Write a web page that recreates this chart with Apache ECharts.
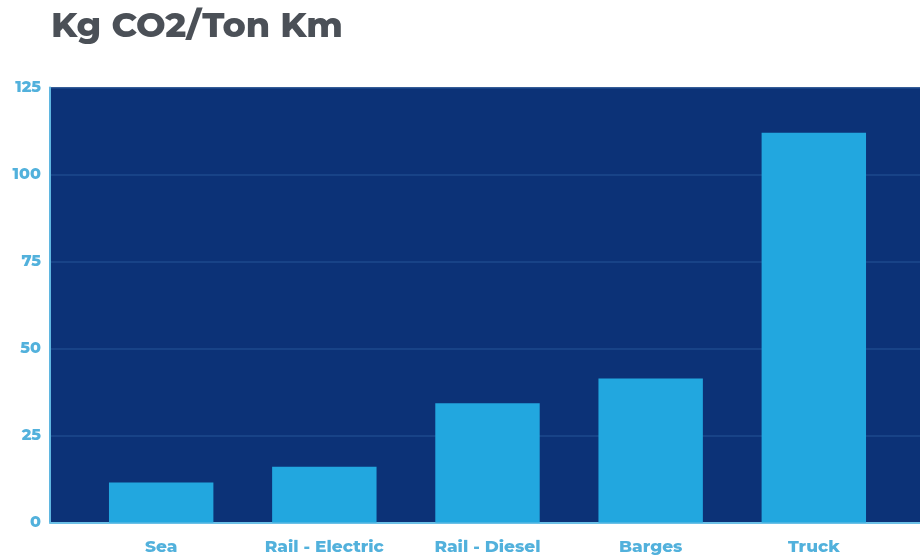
<!DOCTYPE html>
<html>
<head>
<meta charset="utf-8">
<script src="https://cdn.jsdelivr.net/npm/echarts@6/dist/echarts.min.js"></script>
<style>
html,body{margin:0;padding:0;background:#fff;}
#chart{width:920px;height:557px;}
</style>
</head>
<body>
<div id="chart"></div>
<script>
const titleText = "Kg CO2/Ton Km";
const categories = ["Sea", "Rail - Electric", "Rail - Diesel", "Barges", "Truck"];
const values = [11.5, 16, 34.3, 41.4, 112];
const yTicks = [0, 25, 50, 75, 100, 125];

const chart = echarts.init(document.getElementById('chart'));
const navy = '#0c3277';
const barBlue = '#22a7df';
const labelBlue = '#52b1dc';
const font = 'Montserrat, "Noto Sans", "DejaVu Sans", sans-serif';

chart.setOption({
  animation: false,
  title: {
    text: titleText,
    left: 46, top: 4,
    textStyle: { fontFamily: font, fontWeight: 800, fontSize: 35, color: '#4b5057' }
  },
  grid: [
    { left: 50, right: 0, top: 87.5, bottom: 34.5, show: true, backgroundColor: navy, borderWidth: 0 },
    { left: 79.6, right: 24.6, top: 87.5, bottom: 34.5 }
  ],
  xAxis: [
    { type: 'value', gridIndex: 0, min: 0, max: 1,
      axisLine: { show: true, lineStyle: { color: '#6cc0e6', width: 2 } },
      axisTick: { show: false }, axisLabel: { show: false }, splitLine: { show: false } },
    { type: 'category', gridIndex: 1, data: categories,
      axisLine: { show: false }, axisTick: { show: false },
      axisLabel: { interval: 0, hideOverlap: false, color: labelBlue, fontFamily: font, fontWeight: 800, fontSize: 17, margin: 16 } }
  ],
  yAxis: [
    { type: 'value', gridIndex: 0, min: yTicks[0], max: yTicks[yTicks.length - 1], interval: 25,
      axisLine: { show: true, lineStyle: { color: '#5fb6e0', width: 2 } },
      axisTick: { show: false },
      axisLabel: { color: labelBlue, fontFamily: font, fontWeight: 800, fontSize: 16, margin: 9 },
      splitLine: { show: true, lineStyle: { color: '#1d4a8c', width: 1.5 } } },
    { type: 'value', gridIndex: 1, min: yTicks[0], max: yTicks[yTicks.length - 1], interval: 25, show: false,
      splitLine: { show: false } }
  ],
  series: [
    { type: 'bar', xAxisIndex: 1, yAxisIndex: 1, data: values, barWidth: '64%',
      itemStyle: { color: barBlue } }
  ]
});
</script>
</body>
</html>
